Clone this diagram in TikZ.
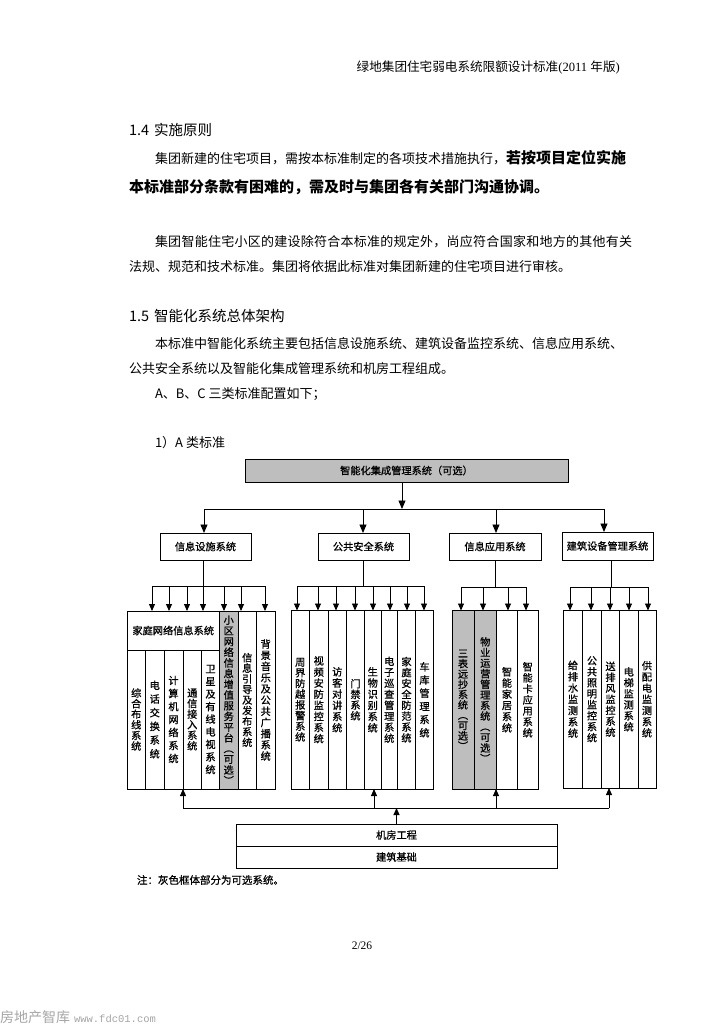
\documentclass[tikz,border=0pt]{standalone}
\usepackage{fontspec}
\setmainfont{Noto Sans CJK SC}
\newfontfamily\cjk{Noto Sans CJK SC}
\newfontfamily\dgcjk{Noto Sans CJK SC}[FakeBold=0.8]
\newfontfamily\serif{Liberation Serif}
\newfontfamily\mono{Liberation Mono}
\usetikzlibrary{arrows.meta}
\definecolor{optgray}{RGB}{190,190,190}
\newcommand\dgfont{\dgcjk\fontsize{10.2pt}{12pt}\selectfont}
\makeatletter
\newcommand\vt[2][11]{\vbox{\baselineskip=#1pt\lineskiplimit=-30pt\lineskip=0pt\relax\@tfor\vt@c:=#2\do{\hbox to 1em{\hss\vt@c\hss}}}}
\makeatother
\newcommand\cellat[7][cell]{\node[#1, minimum width={#5pt-#3pt}, minimum height={#6pt-#4pt}] (#2) at (#3,#4) {#7};}
\tikzset{
  ln/.style={line width=0.9pt},
  arr/.style={line width=0.9pt, -{Triangle[length=7pt,width=6pt]}},
  bigarr/.style={line width=0.9pt, -{Triangle[length=8.5pt,width=7pt]}},
  cell/.style={draw, line width=1pt, inner sep=0pt, outer sep=0pt, anchor=north west, font=\dgfont},
  gcell/.style={cell, fill=optgray},
  txt/.style={anchor=base west, inner sep=0pt, outer sep=0pt},
  body/.style={txt, font=\cjk\fontsize{13pt}{13pt}\selectfont},
  head/.style={txt, font=\cjk\fontsize{14.5pt}{15pt}\selectfont},
}
\begin{document}
\begin{tikzpicture}[x=1pt,y=-1pt]
\fill[white] (0,0) rectangle (724,1024);
\useasboundingbox (0,0) rectangle (724,1024);

% ---------- page text ----------
\node[anchor=base east, inner sep=0pt, font=\cjk\fontsize{12.6pt}{13pt}\selectfont] (hdr) at (620,72)
  {绿地集团住宅弱电系统限额设计标准{\serif (2011 }年版{\serif )}};
\node[head] (h14) at (129,135.5) {1.4\hspace{5pt}实施原则};
\node[body] (p1) at (155,164) {集团新建的住宅项目，需按本标准制定的各项技术措施执行，{\bfseries\fontsize{15pt}{15pt}\selectfont 若按项目定位实施}};
\node[txt, font=\cjk\bfseries\fontsize{15pt}{15pt}\selectfont] (p2) at (129,192.7) {本标准部分条款有困难的，需及时与集团各有关部门沟通协调。};
\node[body] (p3) at (155,246) {\addfontfeature{LetterSpace=2}集团智能住宅小区的建设除符合本标准的规定外，尚应符合国家和地方的其他有关};
\node[body] (p4) at (129,271) {法规、规范和技术标准。集团将依据此标准对集团新建的住宅项目进行审核。};
\node[head] (h15) at (129,321.5) {1.5\hspace{5pt}智能化系统总体架构};
\node[body] (p5) at (155,348) {本标准中智能化系统主要包括信息设施系统、建筑设备监控系统、信息应用系统、};
\node[body] (p6) at (129,373) {公共安全系统以及智能化集成管理系统和机房工程组成。};
\node[body] (p7) at (155,398) {A、B、C 三类标准配置如下；};
\node[body] (p8) at (155,447) {1）A 类标准};

% ---------- diagram boxes ----------
\cellat[gcell]{top}{245}{459}{568}{482}{智能化集成管理系统（可选）}
\cellat{info}{160}{533}{251}{560}{信息设施系统}
\cellat{pub}{318}{533}{409}{560}{公共安全系统}
\cellat{app}{449}{533}{541}{560}{信息应用系统}
\cellat{bld}{562}{532}{653}{560}{建筑设备管理系统}

% group 1
\cellat{hn}{127}{611}{219.5}{650}{家庭网络信息系统}
\cellat{g1a}{127}{650}{145.5}{789}{\vt[10.6]{综合布线系统}}
\cellat{g1b}{145.5}{650}{164}{789}{\vt[13.7]{电话交换系统}}
\cellat{g1c}{164}{650}{183}{789}{\vt[13]{计算机网络系统}}
\cellat{g1d}{183}{650}{201.5}{789}{\vt[10.6]{通信接入系统}}
\cellat{g1e}{201.5}{650}{219.5}{789}{\vt[12.6]{卫星及有线电视系统}}
\cellat[gcell]{g1f}{219.5}{611}{238}{789}{\vt[10.7]{小区网络信息增值服务平台︵可选︶}}
\cellat{g1g}{238}{611}{256.5}{789}{\vt[10.6]{信息引导及发布系统}}
\cellat{g1h}{256.5}{611}{275}{789}{\vt[11.2]{背景音乐及公共广播系统}}

% group 2
\cellat{g2a}{291}{610.5}{309.5}{789}{\vt[10.7]{周界防越报警系统}}
\cellat{g2b}{309.5}{610.5}{328}{789}{\vt[11.1]{视频安防监控系统}}
\cellat{g2c}{328}{610.5}{346.5}{789}{\vt[11.2]{访客对讲系统}}
\cellat{g2d}{346.5}{610.5}{364.5}{789}{\vt[10.7]{门禁系统}}
\cellat{g2e}{364.5}{610.5}{381}{789}{\vt[11.2]{生物识别系统}}
\cellat{g2f}{381}{610.5}{397.5}{789}{\vt[11]{电子巡查管理系统}}
\cellat{g2g}{397.5}{610.5}{415.5}{789}{\vt[10.9]{家庭安全防范系统}}
\cellat{g2h}{415.5}{610.5}{433.5}{789}{\vt[13.2]{车库管理系统}}

% group 3
\cellat[gcell]{g3a}{452}{610.5}{474}{789}{\vt[10.3]{三表远抄系统︵可选︶}}
\cellat[gcell]{g3b}{474}{610.5}{496.5}{789}{\vt[10.6]{物业运营管理系统︵可选︶}}
\cellat{g3c}{496.5}{610.5}{517.5}{789}{\vt[11.2]{智能家居系统}}
\cellat{g3d}{517.5}{610.5}{538}{789}{\vt[11]{智能卡应用系统}}

% group 4
\cellat{g4a}{563.5}{610.5}{582.5}{788}{\vt[11.3]{给排水监测系统}}
\cellat{g4b}{582.5}{610.5}{601.5}{788}{\vt[11]{公共照明监控系统}}
\cellat{g4c}{601.5}{610.5}{619.5}{788}{\vt[11]{送排风监控系统}}
\cellat{g4d}{619.5}{610.5}{638}{788}{\vt[11]{电梯监测系统}}
\cellat{g4e}{638}{610.5}{656}{788}{\vt[11.2]{供配电监测系统}}

% bottom
\cellat{jf}{236}{824}{557}{846}{机房工程}
\cellat{jz}{236}{846}{557}{868}{建筑基础}

% ---------- connectors ----------
\coordinate (tA) at (402,509);
\coordinate (iA) at (204,509);
\coordinate (pA) at (363,509);
\coordinate (aA) at (496,509);
\coordinate (bA) at (604,509);
\draw[bigarr] (top.south -| tA) -- (tA);
\draw[ln] (iA) -- (bA);
\draw[bigarr] (iA) -- (iA |- info.north);
\draw[bigarr] (pA) -- (pA |- pub.north);
\draw[bigarr] (aA) -- (aA |- app.north);
\draw[bigarr] (bA) -- (bA |- bld.north);

% group 1 feed
\coordinate (s1) at (203,586);
\coordinate (s1l) at (152,586);
\coordinate (s1r) at (265,586);
\draw[ln] (s1 |- info.south) -- (s1);
\draw[ln] (s1l) -- (s1r);
\foreach \x in {152,169,187,203} \draw[arr] (\x,586) -- (\x,586 |- hn.north);
\draw[arr] (224,586) -- (224,586 |- g1f.north);
\draw[arr] (241,586) -- (241,586 |- g1g.north);
\draw[arr] (s1r) -- (s1r |- g1h.north);

% group 2 feed
\coordinate (s2) at (363,586);
\coordinate (s2l) at (297,586);
\coordinate (s2r) at (424,586);
\draw[ln] (s2 |- pub.south) -- (s2);
\draw[ln] (s2l) -- (s2r);
\foreach \x/\n in {297/g2a,318/g2b,336/g2c,355/g2d,373/g2e,390/g2f,407/g2g,424/g2h}
  \draw[arr] (\x,586) -- (\x,586 |- \n.north);

% group 3 feed
\coordinate (s3) at (495,587);
\coordinate (s3l) at (461,587);
\coordinate (s3r) at (526,587);
\draw[ln] (s3 |- app.south) -- (s3);
\draw[ln] (s3l) -- (s3r);
\foreach \x/\n in {461/g3a,483/g3b,508/g3c,526/g3d}
  \draw[arr] (\x,587) -- (\x,587 |- \n.north);

% group 4 feed
\coordinate (s4) at (611,587);
\coordinate (s4l) at (570,587);
\coordinate (s4r) at (648,587);
\draw[ln] (s4 |- bld.south) -- (s4);
\draw[ln] (s4l) -- (s4r);
\foreach \x/\n in {570/g4a,591/g4b,610/g4c,629/g4d,648/g4e}
  \draw[arr] (\x,587) -- (\x,587 |- \n.north);

% bottom bus
\coordinate (u1) at (183,808);
\coordinate (u2) at (374,808);
\coordinate (u3) at (496,808);
\coordinate (u4) at (609,808);
\draw[ln] (u1) -- (u4);
\draw[arr] (jf.north) -- (jf.north |- u1);
\draw[arr] (u1) -- (u1 |- g1d.south);
\draw[arr] (u2) -- (u2 |- g2e.south);
\draw[arr] (u3) -- (u3 |- g3b.south);
\draw[arr] (u4) -- (u4 |- g4c.south);

% ---------- notes / footer ----------
\node[txt, font=\dgcjk\fontsize{10.5pt}{11pt}\selectfont] (note) at (137,884) {注：灰色框体部分为可选系统。};
\node[anchor=base, inner sep=0pt, font=\serif\fontsize{11.5pt}{12pt}\selectfont] (pg) at (362,949) {2/26};
\node[txt, text=black!35] (wm) at (0,1022) {{\cjk\fontsize{14pt}{14pt}\selectfont 房地产智库}\hspace{4pt}{\mono\fontsize{10.5pt}{10.5pt}\selectfont www.fdc01.com}};
\end{tikzpicture}
\end{document}
